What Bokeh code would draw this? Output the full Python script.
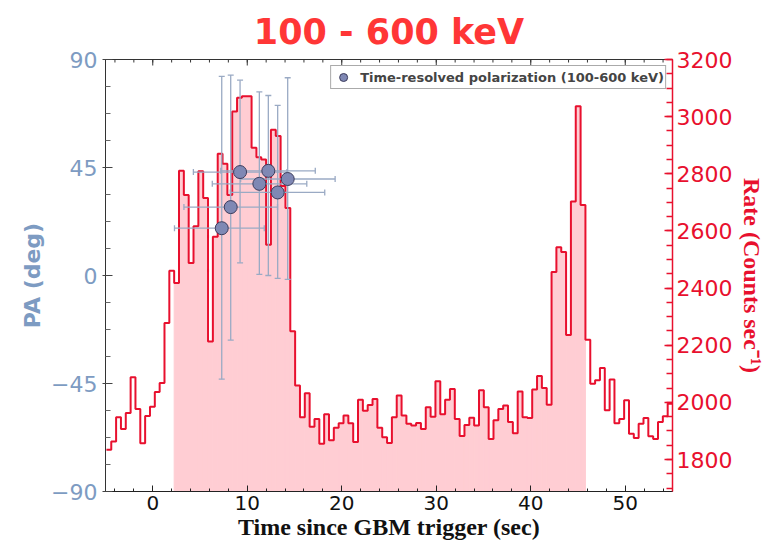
import numpy as np
from bokeh.plotting import figure
from bokeh.models import Range1d, LinearAxis, FixedTicker, Legend, LegendItem
from bokeh.embed import file_html
from bokeh.resources import INLINE

# ---- light-curve (100-600 keV), 0.512 s bins ----
bin_start = -4.902
bin_width = 0.512
rate = [1834, 1863, 1948, 1907, 1963, 2088, 1977, 1857, 1952, 1985,
        2036, 2068, 2278, 2461, 2418, 2811, 2726, 2488, 2616, 2809,
        2715, 2213, 2580, 2870, 2835, 2726, 3018, 3066, 3071, 3071,
        2891, 2858, 2850, 2552, 2954, 2932, 2757, 2680, 2249, 2059,
        1948, 2032, 1915, 1942, 1855, 1958, 1867, 1911, 1927, 1954,
        1927, 1861, 2009, 1971, 1991, 2012, 1911, 1878, 1858, 1948,
        2024, 1954, 1925, 1919, 1928, 1907, 1983, 1950, 2074, 1958,
        2009, 2047, 1942, 1882, 1921, 1946, 1919, 2042, 1983, 1872,
        1937, 1977, 1989, 1931, 1892, 2038, 1948, 1945, 2045, 2092,
        2050, 1992, 2456, 2543, 2526, 2236, 2703, 3036, 2691, 2219,
        2065, 2077, 2120, 1972, 2080, 1927, 1942, 2007, 1890, 1875,
        1925, 1945, 1881, 1872, 1931, 1951, 1995]
fill_first_bin = 14   # first shaded bin (index into rate)
fill_last_bin = 98    # last shaded bin (inclusive)

# ---- time-resolved polarization angle ----
pol_time = [7.30, 8.25, 9.24, 11.28, 12.23, 13.22, 14.28]
pol_pa = [19.7, 28.5, 43.1, 38.2, 43.6, 34.6, 40.2]
pol_time_lo = [2.3, 3.3, 4.3, 6.3, 7.2, 8.2, 9.3]
pol_time_hi = [11.8, 13.2, 14.2, 16.3, 17.2, 18.2, 19.3]
pol_pa_lo = [-43.2, -26.9, 5.3, 0.5, 0.0, -1.2, -1.6]
pol_pa_hi = [83.0, 83.5, 81.4, 76.5, 75.0, 70.9, 82.4]

x_ticks = [0, 10, 20, 30, 40, 50]
x_minor = list(range(-4, 56, 2))
pa_ticks = [-90, -45, 0, 45, 90]
rate_ticks = [1800, 2000, 2200, 2400, 2600, 2800, 3000, 3200]

RED = "#e8102e"
BLUE = "#7d9bc2"
ERR = "#9aaac4"
PINK = "#ffcdd3"

p = figure(width=783, height=546, x_range=Range1d(-5, 55), y_range=Range1d(-90, 90),
           output_backend="svg", toolbar_location=None,
           min_border_left=105, min_border_right=111, min_border_top=59, min_border_bottom=55,
           title="100 - 600 keV")
p.extra_y_ranges = {"rate": Range1d(1688, 3200)}
p.xgrid.visible = False
p.ygrid.visible = False
p.outline_line_color = "#333333"
p.outline_line_width = 1
p.background_fill_color = "white"
p.border_fill_color = "white"

p.title.align = "center"
p.title.text_font = "DejaVu Sans"
p.title.text_font_style = "bold"
p.title.text_font_size = "35px"
p.title.text_color = "#ff3636"
p.title.standoff = 16

edges = bin_start + bin_width * np.arange(len(rate) + 1)
r = np.array(rate, dtype=float)

# shaded burst interval
p.quad(left=edges[fill_first_bin:fill_last_bin + 1], right=edges[fill_first_bin + 1:fill_last_bin + 2],
       top=r[fill_first_bin:fill_last_bin + 1], bottom=1600, fill_color=PINK, line_color=PINK,
       line_width=1, y_range_name="rate")
# step light curve
p.step(x=edges, y=np.append(r, r[-1]), mode="after", line_color=RED, line_width=2, y_range_name="rate")

# top-edge ticks (inward)
y_top = p.y_range.end
p.scatter(x=x_ticks, y=[y_top] * len(x_ticks), marker="dash", angle=np.pi / 2, size=12,
          line_color="#333333", line_width=1)
p.scatter(x=x_minor, y=[y_top] * len(x_minor), marker="dash", angle=np.pi / 2, size=6,
          line_color="#333333", line_width=1)

# error bars
p.segment(x0=pol_time, x1=pol_time, y0=pol_pa_lo, y1=pol_pa_hi, line_color=ERR, line_width=1.3)
p.segment(x0=pol_time_lo, x1=pol_time_hi, y0=pol_pa, y1=pol_pa, line_color=ERR, line_width=1.3)
p.scatter(x=pol_time + pol_time, y=pol_pa_lo + pol_pa_hi, marker="dash", size=6,
          line_color=ERR, line_width=1.3)
p.scatter(x=pol_time_lo + pol_time_hi, y=pol_pa + pol_pa, marker="dash", size=6, angle=np.pi / 2,
          line_color=ERR, line_width=1.3)
pts = p.scatter(x=pol_time, y=pol_pa, size=13, fill_color="#7f88b4", line_color="#3c3c5c", line_width=1)

# bottom axis
xa = p.xaxis[0]
xa.ticker = FixedTicker(ticks=x_ticks, minor_ticks=x_minor)
xa.axis_label = "Time since GBM trigger (sec)"
xa.axis_label_text_font = "Liberation Serif"
xa.axis_label_text_font_style = "bold"
xa.axis_label_text_font_size = "24px"
xa.axis_label_text_color = "#111111"
xa.axis_label_standoff = 1
xa.major_label_text_font = "DejaVu Sans"
xa.major_label_text_font_size = "20px"
xa.major_label_text_color = "#111111"
xa.major_label_standoff = 4
xa.major_tick_in = 6
xa.major_tick_out = 0
xa.minor_tick_in = 3
xa.minor_tick_out = 0
xa.axis_line_color = "#222222"
xa.major_tick_line_color = "#222222"
xa.minor_tick_line_color = "#222222"

# left axis (PA)
ya = p.yaxis[0]
ya.ticker = FixedTicker(ticks=pa_ticks,
                        minor_ticks=[-78.75, -67.5, -56.25, -33.75, -22.5, -11.25,
                                     11.25, 22.5, 33.75, 56.25, 67.5, 78.75])
ya.major_label_overrides = {-90: "\u221290", -45: "\u221245"}
ya.axis_label = "PA (deg)"
ya.axis_label_text_font = "DejaVu Sans"
ya.axis_label_text_font_style = "bold"
ya.axis_label_text_font_size = "22px"
ya.axis_label_text_color = BLUE
ya.axis_label_standoff = 3
ya.major_label_text_font = "DejaVu Sans"
ya.major_label_text_font_size = "22px"
ya.major_label_text_color = BLUE
ya.major_label_standoff = 5
ya.major_tick_in = 7
ya.major_tick_out = 3
ya.minor_tick_in = 5
ya.minor_tick_out = 0
ya.axis_line_color = "#333333"
ya.major_tick_line_color = "#444444"
ya.minor_tick_line_color = "#666666"

# right axis (rate)
ra = LinearAxis(y_range_name="rate",
                ticker=FixedTicker(ticks=rate_ticks, minor_ticks=list(range(1700, 3250, 50))),
                axis_label="Rate (Counts sec\u207b\u00b9)")
ra.axis_label_text_font = "Liberation Serif"
ra.axis_label_text_font_style = "bold"
ra.axis_label_text_font_size = "24px"
ra.axis_label_text_color = RED
ra.axis_label_standoff = 4
ra.major_label_text_font = "DejaVu Sans"
ra.major_label_text_font_size = "22px"
ra.major_label_text_color = RED
ra.major_label_standoff = 4
ra.major_tick_in = 8
ra.major_tick_out = 0
ra.minor_tick_in = 6
ra.minor_tick_out = 0
ra.axis_line_color = RED
ra.axis_line_width = 1.5
ra.major_tick_line_color = RED
ra.minor_tick_line_color = RED
ra.major_tick_line_width = 1.5
ra.minor_tick_line_width = 1.5
p.add_layout(ra, "right")

legend = Legend(items=[LegendItem(label="Time-resolved polarization (100-600 keV)", renderers=[pts])],
                location="top_right")
legend.label_text_font = "DejaVu Sans"
legend.label_text_font_style = "bold"
legend.label_text_font_size = "13px"
legend.label_height = 20
legend.glyph_height = 20
legend.glyph_width = 22
legend.label_standoff = 6
legend.padding = 1
legend.margin = 6
legend.border_line_color = "#555555"
legend.border_line_width = 1.2
p.add_layout(legend)

open("out.html", "w").write(file_html(p, INLINE))
